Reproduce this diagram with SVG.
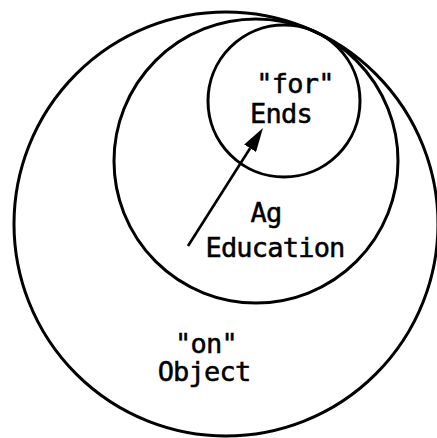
<svg xmlns="http://www.w3.org/2000/svg" width="437" height="438" viewBox="0 0 437 438">
<style>
.ring{fill:none;stroke:#000;stroke-width:3}
.lbl{font-family:"DejaVu Sans Mono","Liberation Mono",monospace;font-size:27px;letter-spacing:-0.8px;fill:#000;stroke:#000;stroke-width:0.5;text-anchor:middle}
.conn{fill:none;stroke:#000;stroke-width:2.6}
</style>
<defs>
<marker id="head" viewBox="0 0 24 14" refX="0" refY="7" markerWidth="24" markerHeight="14" markerUnits="userSpaceOnUse" orient="auto">
<path d="M0,0 L24,7 L0,14 z" fill="#000"/>
</marker>
</defs>
<rect width="437" height="438" fill="#fff"/>
<g id="object">
<circle class="ring" cx="226" cy="224" r="212"/>
<text class="lbl" x="206" y="353">"on"</text>
<text class="lbl" x="204" y="381">Object</text>
</g>
<g id="ag-education">
<circle class="ring" cx="256" cy="161" r="142"/>
<text class="lbl" x="266" y="222">Ag</text>
<text class="lbl" x="275" y="257">Education</text>
</g>
<g id="ends">
<circle class="ring" cx="284" cy="101" r="76"/>
<text class="lbl" x="295" y="93">"for"</text>
<text class="lbl" x="281" y="123">Ends</text>
</g>
<g id="connectors">
<path class="conn" d="M188,246 L250.1,148.3" marker-end="url(#head)"/>
</g>
</svg>
